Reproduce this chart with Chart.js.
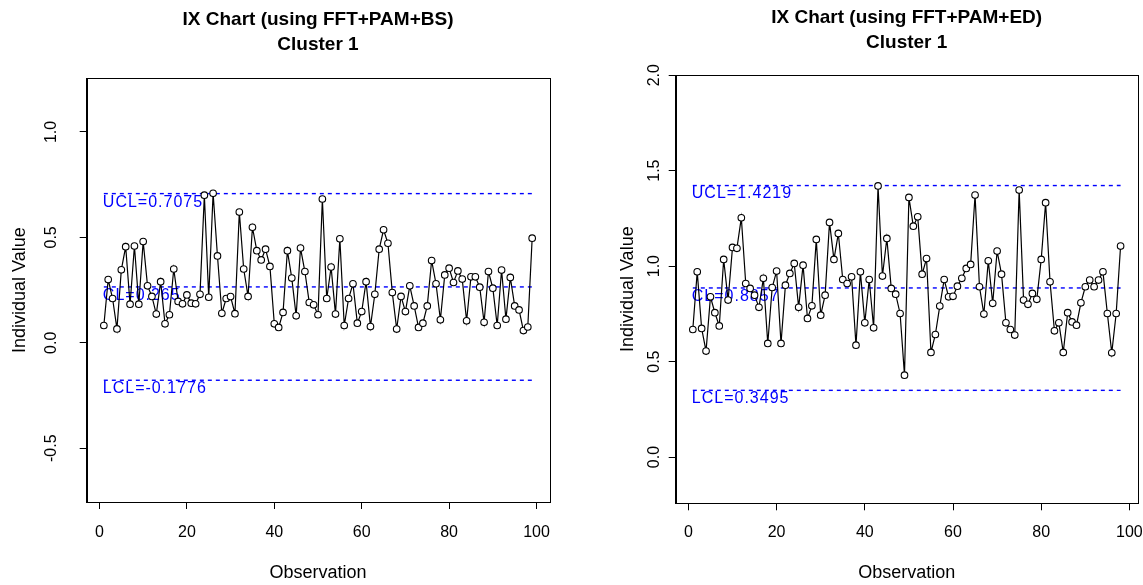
<!DOCTYPE html>
<html lang="en">
<head>
    <meta charset="UTF-8">
    <title>IX Chart - Cluster 1</title>
    <script src="https://cdn.jsdelivr.net/npm/chart.js@4"></script>
    <style>
        body { margin: 0; background: #fff; }
        #wrap { position: relative; width: 1143px; height: 585px; }
        canvas { position: absolute; top: 0; }
    </style>
</head>
<body>
    <div id="wrap">
        <canvas id="chartBS" width="571" height="585" style="left:0px"></canvas>
        <canvas id="chartED" width="543" height="585" style="left:600px"></canvas>
    </div>

    <script>
        // values (observation 1..n)
        const valuesBS = [
            0.082, 0.300, 0.210, 0.066, 0.346, 0.456, 0.183, 0.459, 0.183, 0.480,
            0.270, 0.220, 0.136, 0.290, 0.090, 0.133, 0.350, 0.196, 0.185, 0.227,
            0.188, 0.185, 0.230, 0.700, 0.216, 0.709, 0.412, 0.140, 0.210, 0.219,
            0.138, 0.620, 0.350, 0.220, 0.548, 0.437, 0.393, 0.444, 0.362, 0.090,
            0.073, 0.144, 0.437, 0.307, 0.128, 0.449, 0.338, 0.191, 0.180, 0.133,
            0.682, 0.210, 0.359, 0.136, 0.493, 0.082, 0.210, 0.280, 0.093, 0.148,
            0.290, 0.077, 0.230, 0.444, 0.536, 0.472, 0.238, 0.065, 0.220, 0.148,
            0.270, 0.175, 0.073, 0.093, 0.175, 0.390, 0.280, 0.109, 0.322, 0.354,
            0.286, 0.341, 0.302, 0.104, 0.313, 0.313, 0.264, 0.097, 0.338, 0.259,
            0.082, 0.345, 0.112, 0.310, 0.175, 0.156, 0.058, 0.075, 0.496
        ];
        const valuesED = [
            0.668, 0.970, 0.674, 0.555, 0.839, 0.756, 0.687, 1.035, 0.822, 1.098,
            1.093, 1.253, 0.909, 0.883, 0.848, 0.784, 0.936, 0.595, 0.888, 0.974,
            0.595, 0.900, 0.962, 1.014, 0.784, 1.005, 0.726, 0.792, 1.140, 0.743,
            0.848, 1.229, 1.035, 1.171, 0.930, 0.909, 0.944, 0.586, 0.970, 0.703,
            0.930, 0.677, 1.420, 0.948, 1.145, 0.883, 0.853, 0.752, 0.429, 1.360,
            1.209, 1.258, 0.958, 1.040, 0.548, 0.642, 0.791, 0.930, 0.839, 0.842,
            0.895, 0.936, 0.988, 1.009, 1.372, 0.892, 0.749, 1.028, 0.805, 1.079,
            0.958, 0.703, 0.668, 0.639, 1.398, 0.822, 0.800, 0.857, 0.826, 1.035,
            1.332, 0.918, 0.661, 0.703, 0.548, 0.756, 0.708, 0.691, 0.808, 0.892,
            0.927, 0.892, 0.927, 0.970, 0.752, 0.546, 0.752, 1.105
        ];

        const limitNames = ['UCL', 'CL', 'LCL'];
        const limitsBS = [0.7075, 0.265, -0.1776];
        const limitsED = [1.4219, 0.8857, 0.3495];

        const xTicks = [0, 20, 40, 60, 80, 100];
        const yTicksBS = [-0.5, 0.0, 0.5, 1.0];
        const yTicksED = [0.0, 0.5, 1.0, 1.5, 2.0];

        const FONT = '"Liberation Sans", Arial, sans-serif';
        Chart.defaults.font.family = FONT;
        Chart.defaults.color = '#000';

        // frame round the plot region + the limit labels (R style)
        const ixDecor = {
            id: 'ixDecor',
            beforeDatasetsDraw(chart, args, opts) {
                const ctx = chart.ctx;
                const xs = chart.scales.x, ys = chart.scales.y;
                ctx.save();
                ctx.fillStyle = opts.color;
                ctx.font = '16px ' + FONT;
                ctx.letterSpacing = '1px';
                ctx.textAlign = 'left';
                ctx.textBaseline = 'top';
                opts.values.forEach((v, i) => {
                    ctx.fillText(opts.names[i] + '=' + v, xs.getPixelForValue(1) - 1, ys.getPixelForValue(v) + 0.5);
                });
                ctx.restore();
            },
            afterDraw(chart) {
                const a = chart.chartArea;
                const ctx = chart.ctx;
                ctx.save();
                ctx.strokeStyle = '#000';
                ctx.lineWidth = 1;
                ctx.strokeRect(Math.round(a.left) + 0.5, Math.round(a.top) + 0.5,
                    Math.round(a.right - a.left), Math.round(a.bottom - a.top));
                ctx.restore();
            }
        };

        function makeIX(id, title, values, limits, yTicks, lay) {
            const n = values.length;
            const pts = values.map((v, i) => ({ x: i + 1, y: v }));
            const limitSets = limits.map(v => ({
                data: [{ x: 1, y: v }, { x: n, y: v }],
                borderColor: '#0000ff',
                borderWidth: 1.4,
                borderDash: [4, 4],
                pointRadius: 0,
                fill: false
            }));
            const pad = 0.04 * (n - 1); // R pads the x range by 4%

            new Chart(document.getElementById(id), {
                type: 'line',
                data: {
                    datasets: [{
                        data: pts,
                        borderColor: '#000',
                        borderWidth: 1.2,
                        pointRadius: 3.3,
                        pointBackgroundColor: '#fff',
                        pointBorderColor: '#000',
                        pointBorderWidth: 1.1,
                        tension: 0,
                        fill: false
                    }].concat(limitSets)
                },
                options: {
                    responsive: false,
                    animation: false,
                    devicePixelRatio: 1,
                    layout: { padding: { left: 0, right: lay.padRight, top: 0, bottom: 0 } },
                    scales: {
                        x: {
                            type: 'linear',
                            min: 1 - pad,
                            max: n + pad,
                            afterBuildTicks: s => { s.ticks = xTicks.map(v => ({ value: v })); },
                            afterFit: s => { s.height = lay.xHeight; s.paddingLeft = 0; s.paddingRight = 0; },
                            grid: { drawOnChartArea: false, drawTicks: true, tickLength: 7, color: '#000' },
                            border: { display: true, color: '#000' },
                            ticks: { font: { size: 16 }, padding: lay.xTickPad, maxRotation: 0, autoSkip: false },
                            title: { display: true, text: 'Observation', font: { size: 18 }, padding: { top: 0, bottom: 1 } }
                        },
                        y: {
                            type: 'linear',
                            min: lay.yMin,
                            max: lay.yMax,
                            afterBuildTicks: s => { s.ticks = yTicks.map(v => ({ value: v })); },
                            afterFit: s => { s.width = lay.yWidth; s.paddingTop = 0; s.paddingBottom = 0; },
                            grid: { drawOnChartArea: false, drawTicks: true, tickLength: 7, color: '#000' },
                            border: { display: true, color: '#000' },
                            ticks: {
                                font: { size: 16 },
                                minRotation: 90,
                                maxRotation: 90,
                                crossAlign: 'center',
                                padding: lay.yTickPad,
                                autoSkip: false,
                                callback: v => v.toFixed(1)
                            },
                            title: { display: true, text: 'Individual Value', font: { size: 18 }, padding: { top: lay.yTitlePad, bottom: 0 } }
                        }
                    },
                    plugins: {
                        legend: { display: false },
                        tooltip: { enabled: false },
                        title: {
                            display: true,
                            fullSize: false,
                            text: [title, 'Cluster 1'],
                            font: { size: 19, weight: 'bold', lineHeight: 1.32 },
                            color: '#000',
                            padding: { top: lay.titleTop, bottom: lay.titleBottom }
                        },
                        ixDecor: { values: limits, names: limitNames, color: '#0000ff' }
                    }
                },
                plugins: [ixDecor]
            });
        }

        makeIX('chartBS', 'IX Chart (using FFT+PAM+BS)', valuesBS, limitsBS, yTicksBS, {
            padRight: 21.7, xHeight: 83, xTickPad: 14.4, yWidth: 86.7, yTickPad: 13.9, yTitlePad: 9.2,
            titleTop: 7.5, titleBottom: 20.5, yMin: -0.755, yMax: 1.255
        });
        makeIX('chartED', 'IX Chart (using FFT+PAM+ED)', valuesED, limitsED, yTicksED, {
            padRight: 5.3, xHeight: 81.7, xTickPad: 13.1, yWidth: 75.7, yTickPad: 2.6, yTitlePad: 17.2,
            titleTop: 5.5, titleBottom: 19.5, yMin: -0.242, yMax: 2.0
        });
    </script>
</body>
</html>
